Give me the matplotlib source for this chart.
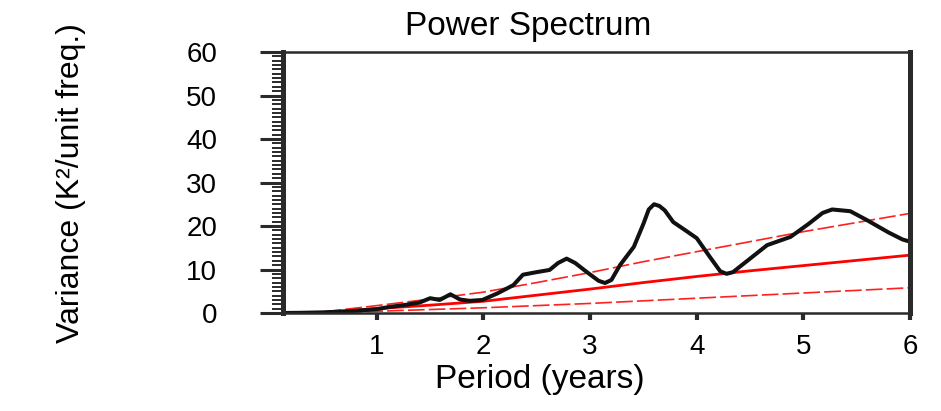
import numpy as np
import matplotlib.pyplot as plt
from matplotlib.ticker import MultipleLocator

plt.rcParams['font.family'] = ['Liberation Sans', 'DejaVu Sans']

# spectrum (period in years, variance)
period = [0.12, 0.3, 0.5, 0.75, 1.0, 1.12, 1.25, 1.4, 1.5, 1.59, 1.69, 1.78, 1.87,
          1.99, 2.13, 2.28, 2.37, 2.5, 2.62, 2.7, 2.78, 2.86, 2.97, 3.08, 3.14,
          3.2, 3.28, 3.41, 3.5, 3.55, 3.6, 3.65, 3.7, 3.78, 3.9, 4.0, 4.12,
          4.22, 4.28, 4.34, 4.5, 4.66, 4.88, 5.05, 5.18, 5.27, 5.44, 5.6, 5.8,
          5.93, 6.0]
variance = [0.0, 0.05, 0.15, 0.4, 0.9, 1.4, 1.8, 2.4, 3.4, 3.0, 4.3, 3.1, 2.8,
            3.0, 4.5, 6.4, 8.8, 9.4, 9.9, 11.5, 12.5, 11.5, 9.4, 7.4, 6.9,
            7.6, 11.0, 15.2, 20.5, 23.8, 25.0, 24.6, 23.6, 20.9, 18.9, 17.2, 13.0,
            9.6, 9.0, 9.4, 12.5, 15.6, 17.5, 20.5, 23.0, 23.8, 23.4, 21.3, 18.5,
            16.9, 16.4]

# red noise fit and bounds
fit_period = [0.12, 0.5, 1.0, 1.5, 2.0, 2.5, 3.0, 3.5, 4.0, 4.5, 5.0, 5.5, 6.0]
red_fit = [0.0, 0.15, 1.0, 1.8, 2.7, 4.1, 5.5, 7.0, 8.4, 9.7, 10.9, 12.1, 13.3]
red_upper = [0.0, 0.25, 1.7, 3.2, 4.8, 7.0, 9.3, 11.8, 14.1, 16.4, 18.7, 20.8, 22.9]
red_lower = [0.0, 0.06, 0.4, 0.8, 1.2, 1.7, 2.2, 2.8, 3.4, 4.0, 4.6, 5.2, 5.8]

fig = plt.figure(figsize=(9.41, 4.11), dpi=100)
ax = fig.add_axes([283/941, 98/411, 627/941, 261/411])

ax.plot(fit_period, red_upper, color='#ff2020', lw=1.2, dashes=(10, 2.5))
ax.plot(fit_period, red_lower, color='#ff2020', lw=1.2, dashes=(10, 2.5))
ax.plot(fit_period, red_fit, color='#ff0000', lw=2)
ax.plot(period, variance, color='#111111', lw=2.9, solid_joinstyle='round')

ax.set_xlim(0.12, 6)
ax.set_ylim(0, 60)
ax.set_xticks([1, 2, 3, 4, 5, 6])
ax.set_yticks(np.arange(0, 61, 10))
ax.yaxis.set_minor_locator(MultipleLocator(1))

for side in ['left', 'right']:
    ax.spines[side].set_linewidth(3.6)
for side in ['top', 'bottom']:
    ax.spines[side].set_linewidth(1.8)
for s in ax.spines.values():
    s.set_color('#2a2a2a')

ax.tick_params(axis='y', which='major', direction='out', length=16.5, width=2.2,
               pad=31, labelsize=20, color='#2a2a2a')
ax.tick_params(axis='y', which='minor', direction='out', length=8, width=1.4,
               color='#2a2a2a')
ax.tick_params(axis='x', which='major', direction='out', length=5, width=3,
               pad=10, labelsize=20, color='#2a2a2a')

fig.text(528/941, 1 - 35/411, 'Power Spectrum', ha='center', va='baseline',
         fontsize=24)
fig.text(540/941, 23/411, 'Period (years)', ha='center', va='baseline',
         fontsize=24)
fig.text(71/941, 1 - 183/411, 'Variance (K²/unit freq.)', ha='center',
         va='center', rotation=90, fontsize=23)

fig.savefig('out.png', dpi=100)
